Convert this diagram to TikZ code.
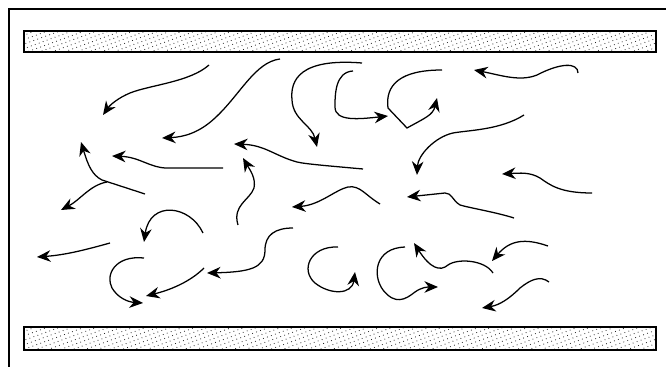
\documentclass[tikz,border=0pt]{standalone}
\usepackage{tikz}
\usetikzlibrary{arrows.meta, patterns.meta}
\tikzset{
  flow/.style={line width=0.9pt, -{Stealth[length=3.4mm, width=2.9mm, inset=1.1mm]}},
  wall/.style={line width=1.8pt, pattern={Dots[radius=0.4pt, distance=3pt, angle=20]}, pattern color=black!85},
  frame/.style={line width=1.1pt}}

\begin{document}
\begin{tikzpicture}[x=0.25mm, y=-0.25mm]
\useasboundingbox (0,0) rectangle (666,367);
% frame and walls
\draw [frame] (666,9) -- (9,9) -- (9,367);
\draw [wall] (24,31) rectangle (656,52);
\draw [wall] (24,327) rectangle (656,350);
% top row
\draw [flow] (209,65) .. controls (190,82) and (150,85) .. (130,93) .. controls (118,98) and (110,105) .. (103,115);
\draw [flow] (280,59) .. controls (255,62) and (240,95) .. (215,118) .. controls (200,132) and (185,137) .. (162,138);
\draw [flow] (362,63) .. controls (300,58) and (290,80) .. (292,100) .. controls (293,120) and (312,125) .. (317,147);
\draw [flow] (353,71) .. controls (335,72) and (335,95) .. (335,107) .. controls (335,122) and (360,119) .. (388,116);
\draw [flow] (442,70) .. controls (400,70) and (385,85) .. (388,108) -- (407,128) .. controls (425,118) and (433,115) .. (437,98);
\draw [flow] (578,73) .. controls (578,62) and (560,63) .. (537,75) .. controls (520,82) and (500,75) .. (474,70);
% middle row
\draw [flow] (524,115) .. controls (500,130) and (470,130) .. (453,133) .. controls (435,137) and (418,155) .. (417,175);
\draw [flow] (223,168) -- (167,168) .. controls (150,168) and (140,157) .. (112,156);
\draw [flow] (363,169) .. controls (330,166) and (305,164) .. (297,162) .. controls (275,156) and (265,145) .. (234,144);
\draw [flow] (145,194) -- (102,180) .. controls (92,175) and (88,165) .. (81,142);
\draw [flow] (107,182) .. controls (90,185) and (80,200) .. (61,210);
\draw [flow] (238,225) .. controls (232,205) and (250,200) .. (254,188) .. controls (256,178) and (250,170) .. (243,158);
\draw [flow] (380,204) .. controls (365,195) and (360,185) .. (348,187) .. controls (335,190) and (320,205) .. (292,207);
\draw [flow] (514,218) .. controls (495,212) and (470,208) .. (460,205) .. controls (452,200) and (452,193) .. (445,193) -- (407,197);
\draw [flow] (592,193) .. controls (560,193) and (550,185) .. (540,178) .. controls (530,172) and (520,173) .. (502,174);
% bottom row
\draw [flow] (203,233) .. controls (190,205) and (150,200) .. (144,242);
\draw [flow] (110,243) .. controls (85,250) and (65,255) .. (37,257);
\draw [flow] (144,258) .. controls (115,255) and (105,275) .. (112,288) .. controls (118,298) and (128,302) .. (143,303);
\draw [flow] (204,268) .. controls (190,282) and (170,290) .. (146,296);
\draw [flow] (293,228) .. controls (275,228) and (265,235) .. (265,250) .. controls (265,268) and (250,272) .. (207,273);
\draw [flow] (338,247) .. controls (310,246) and (300,270) .. (315,283) .. controls (330,295) and (352,295) .. (355,272);
\draw [flow] (405,247) .. controls (375,248) and (372,275) .. (383,290) .. controls (395,305) and (405,300) .. (415,292) .. controls (422,287) and (428,287) .. (438,287);
\draw [flow] (493,273) .. controls (485,260) and (458,258) .. (448,265) .. controls (440,272) and (430,268) .. (414,243);
\draw [flow] (548,246) .. controls (525,238) and (510,240) .. (492,261);
\draw [flow] (549,282) .. controls (540,275) and (530,280) .. (520,288) .. controls (510,298) and (500,305) .. (482,308);
\end{tikzpicture}
\end{document}
